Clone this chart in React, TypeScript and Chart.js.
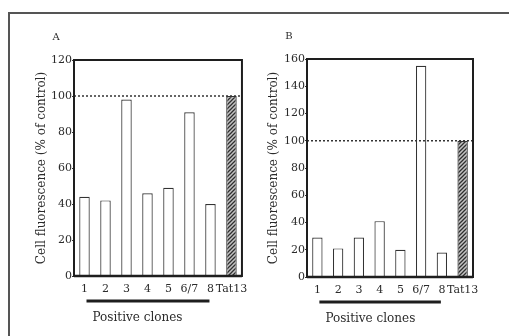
import { useEffect, useRef } from "react";
import { Chart, registerables } from "chart.js";

Chart.register(...registerables);

// ---- data ----
const categories = ["1", "2", "3", "4", "5", "6/7", "8", "Tat13"];
const valuesA = [44, 42, 98, 46, 49, 91, 40, 100];
const valuesB = [29, 21, 29, 41, 20, 155, 18, 100];
const yMaxA = 120;
const yMaxB = 160;
const yStep = 20;
const referenceLevel = 100;
const controlIndex = 7;
const groupFrom = 0;
const groupTo = 6;
const panelLetterA = "A";
const panelLetterB = "B";
const yTitle = "Cell fluorescence (% of control)";
const groupLabel = "Positive clones";

const FONT = "'DejaVu Serif', 'Liberation Serif', serif";
const INK = "#2b2b2b";

function makeHatch(): CanvasPattern | string {
  const c = document.createElement("canvas");
  c.width = 4;
  c.height = 4;
  const g = c.getContext("2d");
  if (!g) return "#888";
  g.fillStyle = "#c4c4c4";
  g.fillRect(0, 0, 4, 4);
  g.strokeStyle = "#303030";
  g.lineWidth = 1.3;
  g.beginPath();
  g.moveTo(0, 4);
  g.lineTo(4, 0);
  g.moveTo(-1, 1);
  g.lineTo(1, -1);
  g.moveTo(3, 5);
  g.lineTo(5, 3);
  g.stroke();
  const p = g.createPattern(c, "repeat");
  return p || "#888";
}

const decorPlugin = {
  id: "decor",
  afterDatasetsDraw(chart: any, _args: any, opts: any) {
    const { ctx, chartArea: a, scales } = chart;
    const yRef = scales.y.getPixelForValue(referenceLevel);
    ctx.save();
    // dotted reference line
    ctx.setLineDash([2, 2]);
    ctx.lineWidth = 1.6;
    ctx.strokeStyle = "#333";
    ctx.beginPath();
    ctx.moveTo(a.left, yRef);
    ctx.lineTo(a.right, yRef);
    ctx.stroke();
    ctx.setLineDash([]);
    // plot box
    ctx.lineWidth = 2;
    ctx.strokeStyle = "#1e1e1e";
    ctx.strokeRect(a.left, a.top, a.right - a.left, a.bottom - a.top);
    ctx.lineWidth = 2.5;
    ctx.beginPath();
    ctx.moveTo(a.left, a.bottom);
    ctx.lineTo(a.right, a.bottom);
    ctx.stroke();
    // group underline
    const x0 = scales.x.getPixelForValue(groupFrom);
    const x1 = scales.x.getPixelForValue(groupTo);
    ctx.lineWidth = 3;
    ctx.beginPath();
    ctx.moveTo(x0 + 2, a.bottom + 25);
    ctx.lineTo(x1 - 1, a.bottom + 25);
    ctx.stroke();
    // group label
    ctx.fillStyle = INK;
    ctx.font = `12px ${FONT}`;
    ctx.textAlign = "left";
    ctx.textBaseline = "middle";
    ctx.fillText(groupLabel, x0 + 8, a.bottom + 42);
    // panel letter
    ctx.font = `10px ${FONT}`;
    ctx.textAlign = "center";
    ctx.fillText(opts.letter, a.left - 18, a.top - 23);
    ctx.restore();
  },
};

type PanelProps = {
  values: number[];
  yMax: number;
  letter: string;
  width: number;
  padding: { left: number; right: number; top: number; bottom: number };
  yWidth: number;
  titlePad: number;
};

function Panel({ values, yMax, letter, width, padding, yWidth, titlePad }: PanelProps) {
  const ref = useRef<HTMLCanvasElement | null>(null);
  useEffect(() => {
    if (!ref.current) return;
    const hatch = makeHatch();
    const chart = new Chart(ref.current, {
      type: "bar",
      data: {
        labels: categories,
        datasets: [
          {
            data: values,
            backgroundColor: values.map((_, i) => (i === controlIndex ? hatch : "#ffffff")),
            borderColor: "#333",
            borderWidth: 1.2,
            barPercentage: 0.5,
            categoryPercentage: 1,
          },
        ],
      },
      options: {
        responsive: false,
        maintainAspectRatio: false,
        devicePixelRatio: 1,
        animation: false,
        layout: { padding },
        plugins: {
          legend: { display: false },
          tooltip: { enabled: false },
          decor: { letter },
        } as any,
        scales: {
          x: {
            grid: { display: false, drawTicks: false, tickLength: 0 },
            border: { display: false },
            ticks: {
              autoSkip: false,
              maxRotation: 0,
              padding: 7,
              color: INK,
              font: { family: FONT, size: 11 },
            },
            afterFit: (s: any) => {
              s.height = 20;
            },
          },
          y: {
            min: 0,
            max: yMax,
            grid: { display: true, drawOnChartArea: false, tickLength: 2, color: "#333" },
            border: { display: false },
            ticks: {
              stepSize: yStep,
              padding: 0,
              color: INK,
              font: { family: FONT, size: 11 },
            },
            title: {
              display: true,
              text: yTitle,
              color: INK,
              font: { family: FONT, size: 12 },
              padding: { top: titlePad, bottom: 0 },
            },
            afterFit: (s: any) => {
              s.width = yWidth;
            },
          },
        },
      },
      plugins: [decorPlugin],
    });
    return () => chart.destroy();
  }, []);
  return <canvas ref={ref} width={width} height={336} style={{ display: "block", width, height: 336 }} />;
}

export default function App() {
  return (
    <div style={{ position: "fixed", left: 0, top: 0, width: 509, height: 336, background: "#fff", overflow: "hidden" }}>
      <div
        style={{
          position: "absolute",
          left: 8,
          top: 12,
          width: 520,
          height: 340,
          borderLeft: "2px solid #555",
          borderTop: "2px solid #555",
        }}
      />
      <div style={{ position: "absolute", left: 0, top: 0 }}>
        <Panel
          values={valuesA}
          yMax={yMaxA}
          letter={panelLetterA}
          width={255}
          padding={{ left: 24, right: 13, top: 60, bottom: 40 }}
          yWidth={50}
          titlePad={11}
        />
      </div>
      <div style={{ position: "absolute", left: 255, top: 0 }}>
        <Panel
          values={valuesB}
          yMax={yMaxB}
          letter={panelLetterB}
          width={254}
          padding={{ left: 4, right: 36, top: 59, bottom: 39 }}
          yWidth={48}
          titlePad={8}
        />
      </div>
    </div>
  );
}
